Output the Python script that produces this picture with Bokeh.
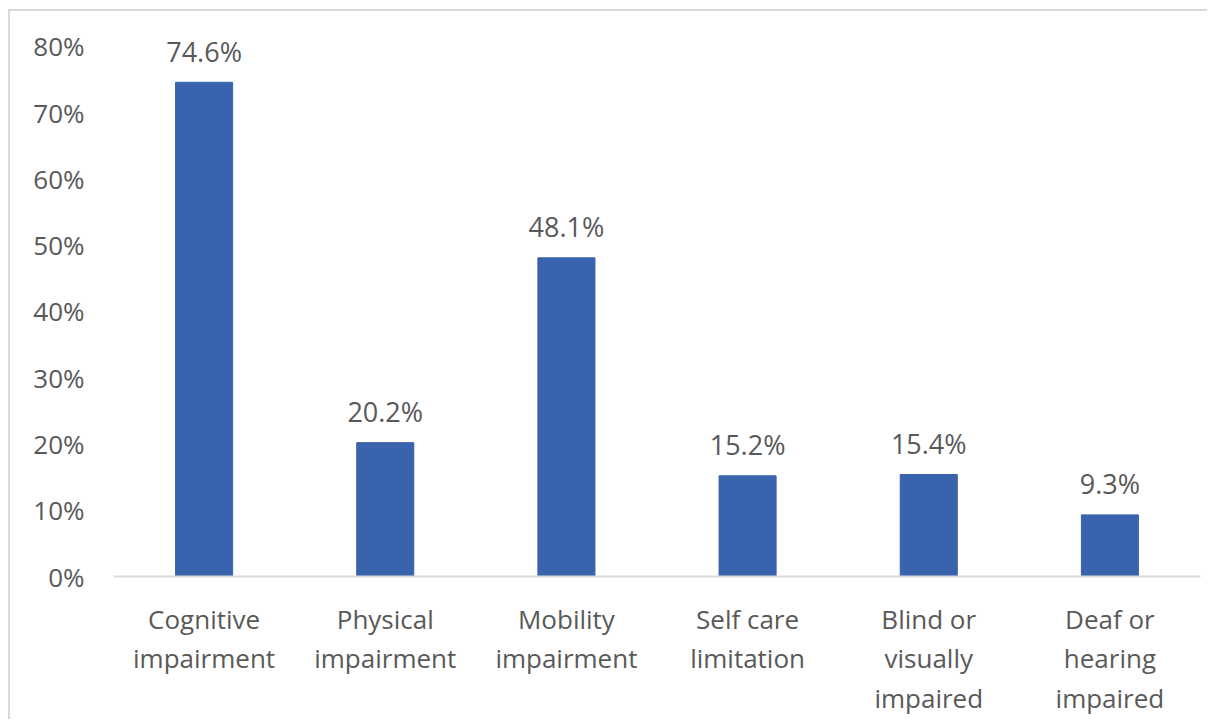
from bokeh.plotting import figure
from bokeh.models import ColumnDataSource, NumeralTickFormatter, FixedTicker, Range1d
from bokeh.core.properties import value
from bokeh.embed import file_html
from bokeh.resources import INLINE

categories = ["Cognitive\nimpairment", "Physical\nimpairment", "Mobility\nimpairment",
              "Self care\nlimitation", "Blind or\nvisually\nimpaired", "Deaf or\nhearing\nimpaired"]
values = [0.746, 0.202, 0.481, 0.152, 0.154, 0.093]
value_labels = ["74.6%", "20.2%", "48.1%", "15.2%", "15.4%", "9.3%"]
y_ticks = [0, 0.1, 0.2, 0.3, 0.4, 0.5, 0.6, 0.7, 0.8]

FONT = "Open Sans"
TXT = "#595959"
BAR = "#3a63ad"

src = ColumnDataSource(dict(cat=categories, val=values, lab=value_labels))

# frame extends above the 80% tick so the top data label is not clipped
p = figure(x_range=categories, y_range=Range1d(0, 0.8528), width=1199, height=710,
           output_backend="svg", toolbar_location=None,
           min_border_left=103, min_border_right=9, min_border_top=0, min_border_bottom=145)
p.styles = {"border-top": "2px solid #d9d9d9", "border-left": "2px solid #d9d9d9",
            "margin-left": "8px", "margin-top": "9px"}
p.outline_line_color = None
p.grid.grid_line_color = None
p.background_fill_color = "white"

p.vbar(x="cat", top="val", width=0.315, source=src, fill_color=BAR, line_color=BAR)
p.text(x="cat", y="val", text="lab", source=src, text_align="center",
       text_baseline="alphabetic", y_offset=-31, text_font=value(FONT),
       text_font_size="27px", text_color=TXT)

yax = p.yaxis[0]
yax.ticker = FixedTicker(ticks=y_ticks)
yax.formatter = NumeralTickFormatter(format="0%")
yax.axis_line_color = None
yax.major_tick_line_color = None
yax.minor_tick_line_color = None
yax.major_label_text_font = FONT
yax.major_label_text_font_size = "26px"
yax.major_label_text_color = TXT
yax.major_label_standoff = 23

xax = p.xaxis[0]
xax.axis_line_color = "#d9d9d9"
xax.axis_line_width = 2
xax.major_tick_line_color = None
xax.minor_tick_line_color = None
xax.major_label_text_font = FONT
xax.major_label_text_font_size = "26px"
xax.major_label_text_color = TXT
xax.major_label_text_line_height = 1.1
xax.major_label_standoff = 18
xax.major_label_orientation = "horizontal"

open("out.html", "w").write(file_html(p, INLINE))
